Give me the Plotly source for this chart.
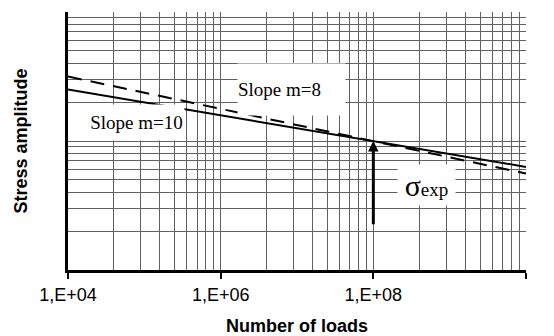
import math
import plotly.graph_objects as go

# ---- data ----
loads = [1e4, 1e10]                  # number of loads (line end points)
stress_m10 = [25.1, 6.3]             # solid line, slope m=10
stress_m8 = [31.6, 5.6]              # dashed line, slope m=8
arrow_N = [1e8]
arrow_S = [2.2, 10.0]                # arrow from bottom to tip

x_major = [1e4, 1e6, 1e8, 1e10]
x_labels = ["1,E+04", "1,E+06", "1,E+08", "1,E+10"]
x_minor_mult = [4, 9, 16, 25, 36, 49, 64, 81]
y_grid = [2, 3, 4, 5, 6, 7, 8, 9, 10, 20, 30, 40, 50, 60, 70, 80, 90, 100]

x_minor = [b * m for b in x_major[:-1] for m in x_minor_mult]

# plot area in pixels
L, R, T, B = 68, 526, 12, 270
W, H = 554, 336

def px(x):
    return (x - L) / (R - L)

def py(y):
    return (B - y) / (B - T)

GRID = "#606060"
SANS = "Arial, Liberation Sans, sans-serif"
SERIF = "Times New Roman, Liberation Serif, serif"

fig = go.Figure()
fig.add_trace(go.Scatter(x=loads, y=stress_m8, mode="lines",
                         line=dict(color="black", width=2, dash="14px,9px"),
                         showlegend=False, hoverinfo="skip"))
fig.add_trace(go.Scatter(x=loads, y=stress_m10, mode="lines",
                         line=dict(color="black", width=2),
                         showlegend=False, hoverinfo="skip"))

annotations = [
    dict(text="Slope m=8", xref="paper", yref="paper",
         x=px(291.5), y=py(89.5), xanchor="center", yanchor="middle",
         width=107, height=51, borderpad=0, align="left",
         bgcolor="white", showarrow=False,
         font=dict(family=SERIF, size=19, color="black")),
    dict(text="Slope m=10", xref="paper", yref="paper",
         x=px(136.5), y=py(122.5), xanchor="center", yanchor="middle",
         width=95, height=35, borderpad=0,
         bgcolor="white", showarrow=False,
         font=dict(family=SERIF, size=19, color="black")),
    dict(text="<span style='font-size:30px'>σ</span>exp", xref="paper", yref="paper",
         x=px(426.5), y=py(185), xanchor="center", yanchor="middle",
         width=57, height=40, borderpad=0,
         bgcolor="white", showarrow=False,
         font=dict(family=SERIF, size=19, color="black")),
    dict(text="", xref="x", yref="y", axref="x", ayref="y",
         x=math.log10(arrow_N[0]), y=math.log10(arrow_S[1]),
         ax=math.log10(arrow_N[0]), ay=math.log10(arrow_S[0]),
         showarrow=True, arrowhead=2, arrowwidth=3, arrowsize=0.7,
         arrowcolor="black", standoff=0),
]

fig.update_layout(
    width=W, height=H,
    margin=dict(l=L, r=W - R, t=T, b=H - B, pad=0),
    paper_bgcolor="white", plot_bgcolor="white",
    annotations=annotations,
    xaxis=dict(type="log", range=[4, 10],
               tickmode="array", tickvals=x_major, ticktext=x_labels,
               ticks="outside", ticklen=6, tickwidth=2, tickcolor="black",
               showgrid=True, gridcolor=GRID, gridwidth=1,
               minor=dict(tickmode="array", tickvals=x_minor, showgrid=True,
                          gridcolor=GRID, gridwidth=1, ticks=""),
               showline=True, linecolor="black", linewidth=3,
               tickfont=dict(family=SANS, size=18, color="black"),
               title=dict(text="<b>Number of loads</b>",
                          font=dict(family=SANS, size=18, color="black"),
                          standoff=17),
               zeroline=False, automargin=False),
    yaxis=dict(type="log", range=[0, 2],
               tickmode="array", tickvals=y_grid, showticklabels=False,
               ticks="", showgrid=True, gridcolor=GRID, gridwidth=1,
               showline=True, linecolor="black", linewidth=3,
               title=dict(text="<b>Stress amplitude</b>",
                          font=dict(family=SANS, size=18, color="black"),
                          standoff=33),
               zeroline=False, automargin=False),
)

fig.write_html("out.html")
